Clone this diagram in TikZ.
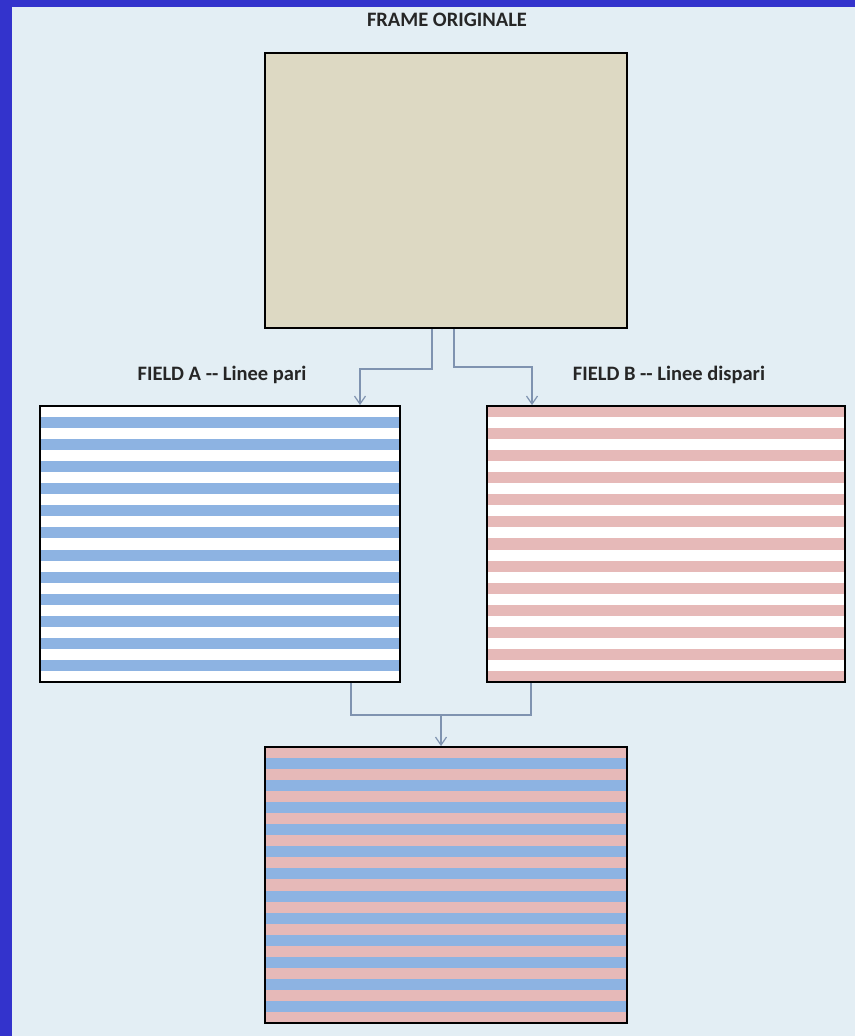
\documentclass[tikz,border=0pt]{standalone}
\usepackage{fontspec}
\setmainfont{Carlito}
\usetikzlibrary{arrows.meta}
\definecolor{bgc}{HTML}{E3EEF4}
\definecolor{framec}{HTML}{3333CC}
\definecolor{beige}{HTML}{DDD9C3}
\definecolor{sblue}{HTML}{8DB3E2}
\definecolor{spink}{HTML}{E6B9B8}
\definecolor{connc}{HTML}{7F93B0}
\tikzset{
  box/.style={draw=black, line width=1.8pt, inner sep=0pt, rectangle},
  conn/.style={draw=connc, line width=1.4pt},
  tip/.style={-{Straight Barb[length=8pt,width=11pt,line width=1.2pt]}},
  lab/.style={font=\fontsize{20.5}{24}\selectfont\bfseries, text=black!85, inner sep=0pt},
  bandA/.style={path picture={
    \foreach \k in {1,3,...,23}
      \fill[sblue] ([yshift=-\k*11.04pt]path picture bounding box.north west) rectangle ([yshift=-(\k+1)*11.04pt]path picture bounding box.north east);}},
  bandB/.style={path picture={
    \foreach \k in {0,2,...,24}
      \fill[spink] ([yshift=-\k*11.04pt]path picture bounding box.north west) rectangle ([yshift=-(\k+1)*11.04pt]path picture bounding box.north east);}},
  bandC/.style={path picture={
    \foreach \k in {1,3,...,23}
      \fill[sblue] ([yshift=-\k*11.04pt]path picture bounding box.north west) rectangle ([yshift=-(\k+1)*11.04pt]path picture bounding box.north east);}}
}
\begin{document}
\begin{tikzpicture}[x=1pt,y=-1pt]
\useasboundingbox (0,0) rectangle (855,1036);
\fill[bgc] (0,0) rectangle (855,1036);
\fill[framec] (0,0) rectangle (12,1036);
\fill[framec] (0,0) rectangle (855,7);

\node[box, fill=beige, minimum width=362pt, minimum height=275pt] (frame) at (446,190.5) {};
\node[box, fill=white, bandA, minimum width=360pt, minimum height=276pt] (fa) at (220,544) {};
\node[box, fill=white, bandB, minimum width=358pt, minimum height=276pt] (fb) at (666,544) {};
\node[box, fill=spink, bandC, minimum width=362pt, minimum height=276pt] (res) at (446,885) {};

\node[lab] (tframe) at (447,20) {FRAME ORIGINALE};
\node[lab] (tfa) at (222,375) {FIELD A -{}- Linee pari};
\node[lab] (tfb) at (669,375) {FIELD B -{}- Linee dispari};

\draw[conn, tip] ([xshift=-14pt]frame.south) -- ++(0,40) -| ([xshift=140pt]fa.north);
\draw[conn, tip] ([xshift=8pt]frame.south) -- ++(0,38) -| ([xshift=-134pt]fb.north);
\draw[conn] ([xshift=131pt]fa.south) -- ++(0,32) -| ([xshift=-135pt]fb.south);
\coordinate (m) at (441,714);
\draw[conn, tip] (m) -- (m |- res.north);
\end{tikzpicture}
\end{document}
